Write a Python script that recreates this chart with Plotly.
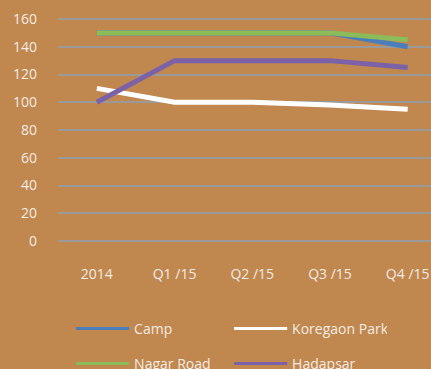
import plotly.graph_objects as go

periods = ["2014", "Q1 /15", "Q2 /15", "Q3 /15", "Q4 /15"]
camp = [150, 150, 150, 150, 140]
koregaon_park = [110, 100, 100, 98, 95]
nagar_road = [150, 150, 150, 150, 145]
hadapsar = [100, 130, 130, 130, 125]

# name, values, colour, legend row
series = [
    ("Camp", camp, "#4a7ebb", "legend"),
    ("Koregaon Park", koregaon_park, "#ffffff", "legend"),
    ("Nagar Road", nagar_road, "#8cbb5a", "legend2"),
    ("Hadapsar", hadapsar, "#7b62a8", "legend2"),
]

bg = "#c0874f"
text_col = "#f4ece4"
font_family = "Open Sans, Liberation Sans, sans-serif"

fig = go.Figure()
for name, vals, col, leg in series:
    fig.add_trace(go.Scatter(
        x=periods, y=vals, name=name, mode="lines",
        line=dict(color=col, width=5),
        legendgroup=name, showlegend=False,
    ))
# thinner key lines for the legend
for name, vals, col, leg in series:
    fig.add_trace(go.Scatter(
        x=[None], y=[None], name=name, mode="lines",
        line=dict(color=col, width=3),
        legendgroup=name, showlegend=True, legend=leg,
    ))

legend_common = dict(
    orientation="h", xref="container", yref="container",
    x=0.165, xanchor="left", yanchor="middle",
    entrywidth=90, entrywidthmode="pixels", itemwidth=53,
    bgcolor="rgba(0,0,0,0)", borderwidth=0,
    font=dict(family=font_family, size=14, color=text_col),
)

fig.update_layout(
    width=431, height=369,
    paper_bgcolor=bg, plot_bgcolor=bg,
    margin=dict(l=58, r=0, t=0, b=0, autoexpand=False),
    font=dict(family=font_family, size=14, color=text_col),
    showlegend=True,
    legend=dict(legend_common, y=1 - 329 / 369),
    legend2=dict(legend_common, y=1 - 364 / 369),
    xaxis=dict(
        type="category", range=[-0.5, 4.3], showgrid=False, zeroline=False,
        showline=False, ticks="", ticklabelstandoff=6,
        tickfont=dict(size=14, color=text_col),
    ),
    yaxis=dict(
        range=[-12.25, 173.7], tickvals=[0, 20, 40, 60, 80, 100, 120, 140, 160],
        showgrid=True, gridcolor="#9a9a9a", gridwidth=2, zeroline=False,
        showline=False, ticks="", ticklabelstandoff=20,
        tickfont=dict(size=14, color=text_col),
        domain=[1 - 258 / 369, 1],
    ),
)

fig.write_html("out.html")
